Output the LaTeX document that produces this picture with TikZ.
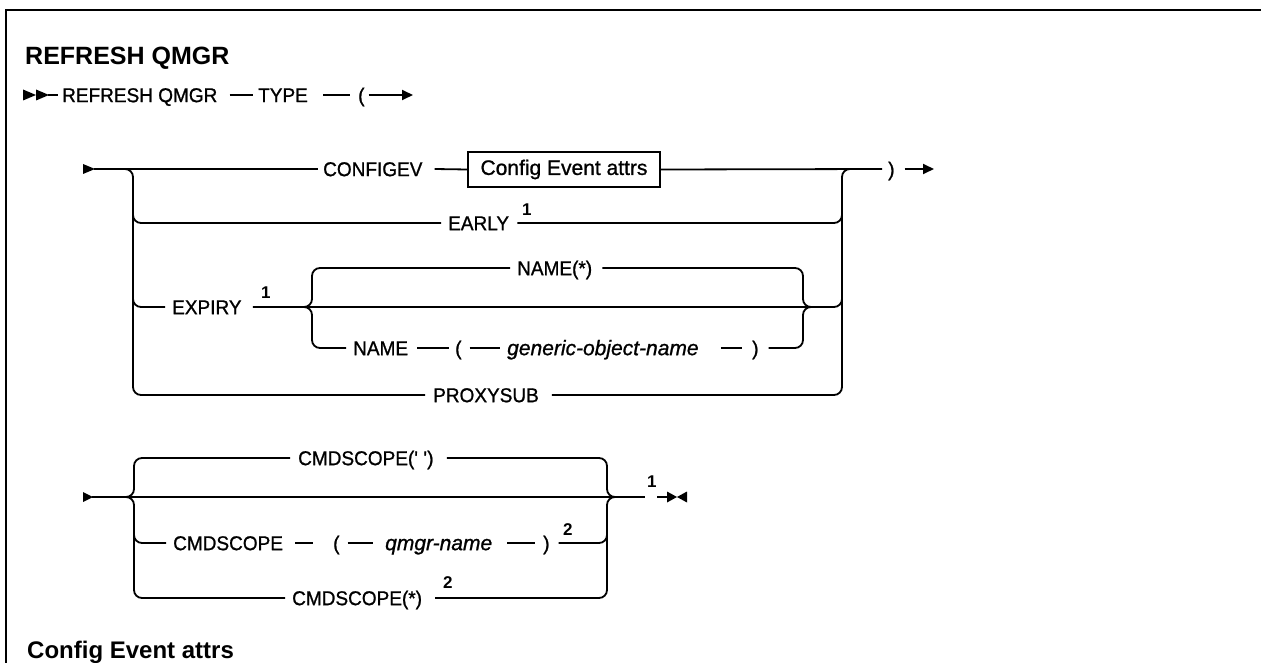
\documentclass[tikz,border=0pt]{standalone}
\usepackage{fontspec}
\setmainfont{Liberation Sans}
\newfontfamily\kwf{Liberation Sans}[FakeStretch=0.95,FakeBold=1.0]
\newfontfamily\varf{Liberation Sans}[FakeBold=1.0]
\usetikzlibrary{arrows.meta,calc}
\begin{document}
\begin{tikzpicture}[x=1pt,y=-1pt,
  rail/.style={line width=1.8pt, rounded corners=8pt},
  kw/.style={inner sep=0pt, anchor=west, text height=14.3pt, text depth=0pt, font=\kwf\fontsize{20}{24}\selectfont},
  var/.style={kw, font=\varf\fontsize{21}{24}\selectfont\itshape},
  sup/.style={inner sep=0pt, anchor=base west, font=\fontsize{17}{20}\selectfont\bfseries},
  head/.style={inner sep=0pt, anchor=base west, font=\fontsize{25}{30}\selectfont\bfseries},
  tip/.style={-{Triangle[length=11pt,width=10pt]}},
  ]
\useasboundingbox (0,0) rectangle (1261,663);
% frame
\draw[line width=2.4pt] (1270,10) -- (6,10) -- (6,670);
% headings
\node[head] (title) at (25,65) {REFRESH QMGR};
\node[head, font=\fontsize{24}{28}\selectfont\bfseries] (cfghead) at (27,658) {Config Event attrs};

% ---- first line
\fill (23,89.5) -- (36,95) -- (23,100.5) -- cycle;
\fill (36,89.5) -- (49,95) -- (36,100.5) -- cycle;
\coordinate (dbl) at (48,95);
\node[kw] (rq) at (62,95) {REFRESH QMGR};
\node[kw] (ty) at (258,95) {TYPE};
\node[kw] (lpa) at (358,95) {(};
\coordinate (a2) at (413,95);
\draw[rail] (dbl) -- ([xshift=-4pt]rq.west);
\draw[rail] ([xshift=12pt]rq.east) -- ([xshift=-5pt]ty.west);
\draw[rail] ([xshift=15pt]ty.east) -- ([xshift=-8pt]lpa.west);
\draw[rail,tip] ([xshift=4pt]lpa.east) -- (a2);

% ---- TYPE group
\fill (83,164) -- (95,169) -- (83,174) -- cycle;
\coordinate (s1) at (94,169);
\node[kw] (cfg) at (323,169) {CONFIGEV};
\node[draw, line width=1.5pt, minimum width=192pt, minimum height=35pt, inner sep=0pt,
      font=\varf\fontsize{21}{24}\selectfont] (box) at (564,169.5) {Config Event attrs};
\node[kw] (rpa) at (888,169) {)};
\coordinate (mend) at (934,169);
\draw[rail] (s1) -- ([xshift=-5pt]cfg.west);
\draw[rail] ([xshift=12pt]cfg.east) -- (box.west);
\draw[rail] (box.east) -- ([xshift=-6pt]rpa.west);
\draw[rail,tip] ([xshift=10pt]rpa.east) -- (mend);

\coordinate (Lt) at (133,169); \coordinate (Lb) at (133,395);
\coordinate (Rt) at (842,169); \coordinate (Rb) at (842,395);
\node[kw] (px) at (433,395) {PROXYSUB};
\draw[rail] ($(Lt)+(-16,0)$) -- (Lt) -- (Lb) -- ([xshift=-8pt]px.west);
\draw[rail] ([xshift=13pt]px.east) -- (Rb) -- (Rt) -- ($(Rt)+(16,0)$);

% EARLY
\node[kw] (early) at (448,223) {EARLY};
\node[sup] (f1a) at (522,215) {1};
\coordinate (Le) at (133,223); \coordinate (Re) at (842,223);
\draw[rail] ($(Le)+(0,-16)$) -- (Le) -- ([xshift=-7pt]early.west);
\draw[rail] ([xshift=8pt]early.east) -- (Re) -- ($(Re)+(0,-16)$);

% EXPIRY
\node[kw] (exp) at (172,307) {EXPIRY};
\node[sup] (f1b) at (261,298) {1};
\coordinate (Lx) at (133,307); \coordinate (Rx) at (842,307);
\draw[rail] ($(Lx)+(0,-16)$) -- (Lx) -- ([xshift=-7pt]exp.west);
\draw[rail] ([xshift=11pt]exp.east) -- (Rx) -- ($(Rx)+(0,-16)$);

\coordinate (ILa) at (312,268); \coordinate (ILm) at (312,307); \coordinate (ILb) at (312,348);
\coordinate (IRa) at (803,268); \coordinate (IRm) at (803,307); \coordinate (IRb) at (803,348);
\node[kw] (nst) at (517,268) {NAME(*)};
\node[kw] (nm) at (353,348) {NAME};
\node[kw] (lpb) at (455,348) {(};
\node[var] (gon) at (507,348) {generic-object-name};
\node[kw] (rpb) at (752,348) {)};
\draw[rail] ($(ILm)+(-16,0)$) -- (ILm) -- (ILa) -- ([xshift=-7pt]nst.west);
\draw[rail] ($(ILm)+(-16,0)$) -- (ILm) -- (ILb) -- ([xshift=-7pt]nm.west);
\draw[rail] ([xshift=10pt]nst.east) -- (IRa) -- (IRm) -- ($(IRm)+(16,0)$);
\draw[rail] ([xshift=10pt]rpb.east) -- (IRb) -- (IRm) -- ($(IRm)+(16,0)$);
\draw[rail] ([xshift=9pt]nm.east) -- ([xshift=-6pt]lpb.west);
\draw[rail] ([xshift=8pt]lpb.east) -- ([xshift=-7pt]gon.west);
\draw[rail] ([xshift=22pt]gon.east) -- ([xshift=-10pt]rpb.west);

% ---- CMDSCOPE group
\fill (83,492) -- (93,497) -- (83,502) -- cycle;
\coordinate (s2) at (92,497);
\coordinate (BLa) at (134,458); \coordinate (BLm) at (134,497); \coordinate (BLq) at (134,543); \coordinate (BLb) at (134,598);
\coordinate (BRa) at (607,458); \coordinate (BRm) at (607,497); \coordinate (BRq) at (607,543); \coordinate (BRb) at (607,598);
\coordinate (g1) at (645,497); \coordinate (g2) at (657,497); \coordinate (e0) at (667,497);
\node[kw] (c1) at (298,458) {CMDSCOPE(\textquotesingle\ \textquotesingle)};
\node[kw] (c2) at (173,543) {CMDSCOPE};
\node[kw] (lpc) at (333,543) {(};
\node[var] (qn) at (385,543) {qmgr-name};
\node[kw] (rpc) at (543,543) {)};
\node[sup] (f2a) at (563,535) {2};
\node[kw] (c3) at (292,598) {CMDSCOPE(*)};
\node[sup] (f2b) at (443,588) {2};
\node[sup] (f1c) at (647,487) {1};

\draw[rail] (s2) -- (g1);
\draw[rail] ($(BLm)+(-16,0)$) -- (BLm) -- (BLa) -- ([xshift=-8pt]c1.west);
\draw[rail] ($(BLm)+(-16,0)$) -- (BLm) -- (BLb) -- ([xshift=-7pt]c3.west);
\draw[rail] ($(BLq)+(0,-16)$) -- (BLq) -- ([xshift=-7pt]c2.west);
\draw[rail] ([xshift=13pt]c1.east) -- (BRa) -- (BRm) -- ($(BRm)+(16,0)$);
\draw[rail] ([xshift=13pt]c3.east) -- (BRb) -- (BRm) -- ($(BRm)+(16,0)$);
\draw[rail] ([xshift=9pt]rpc.east) -- (BRq) -- ($(BRq)+(0,-16)$);
\draw[rail] ([xshift=12pt]c2.east) -- ([xshift=-20pt]lpc.west);
\draw[rail] ([xshift=8pt]lpc.east) -- ([xshift=-12pt]qn.west);
\draw[rail] ([xshift=15pt]qn.east) -- ([xshift=-8pt]rpc.west);
\draw[rail] (g2) -- (e0);
\fill (667,491.5) -- (677,497) -- (667,502.5) -- cycle;
\fill (687,491.5) -- (677,497) -- (687,502.5) -- cycle;
\end{tikzpicture}
\end{document}
